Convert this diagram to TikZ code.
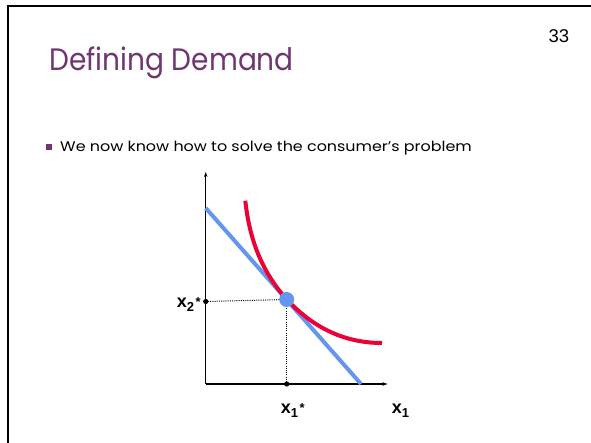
\documentclass[tikz,border=0pt]{standalone}
\usepackage{fontspec}
\setmainfont{Poppins}
\newfontfamily\lab{Liberation Sans}
\usetikzlibrary{arrows.meta}
\definecolor{ttl}{RGB}{110,55,112}
\definecolor{bud}{RGB}{100,150,240}
\definecolor{ind}{RGB}{235,0,55}
\begin{document}
\begin{tikzpicture}[x=1pt,y=-1pt,
  axis/.style={line width=1.2pt,-{Stealth[length=5pt,width=3.5pt]}},
  guide/.style={line width=1pt,dash pattern=on 1pt off 1.2pt},
  lbl/.style={anchor=base west,inner sep=0,font=\lab\bfseries\fontsize{18}{18}\selectfont}]
\useasboundingbox (0,0) rectangle (591,443);
\fill[white] (0,0) rectangle (591,443);
% frame
\draw[line width=2pt] (8,443) -- (8,6) -- (591,6);
% title and page number
\node[anchor=base west,inner sep=0,text=ttl,font=\fontsize{31}{31}\selectfont] (title) at (49.3,70.5) {\scalebox{0.904}[1]{Defining Demand}};
\node[anchor=base east,inner sep=0,font=\lab\fontsize{18.5}{18.5}\selectfont] (num) at (569.3,42.7) {33};
% bullet
\node[fill=ttl,minimum size=6pt,inner sep=0] (bul) at (48.5,147) {};
\node[anchor=base west,inner sep=0,font=\fontsize{14}{14}\selectfont] (txt) at (60,151.7) {\scalebox{1.138}[1]{We now know how to solve the consumer’s problem}};
% graph
\coordinate (O) at (205.7,384);
\coordinate (ytip) at (205.7,172);
\coordinate (xtip) at (387.5,384);
\coordinate (bA) at (205.7,208);
\coordinate (bB) at (361,384);
\coordinate (iA) at (245.3,200.7);
\coordinate (T) at (286.7,299.5);
\coordinate (iB) at (382,343);
\coordinate (p2) at (205.7,301.5);
\coordinate (p1) at (286.7,384);
\draw[axis] (O) -- (ytip);
\draw[axis] (O) -- (xtip);
\draw[guide] (p2) -- (T);
\draw[guide] (T) -- (p1);
\draw[bud,line width=4pt] (bA) -- (bB);
\draw[ind,line width=4pt] (iA) .. controls (250,245) and (265,275) .. (T) .. controls (310,324) and (340,343) .. (iB);
\fill[bud] (T) circle (7.5);
\fill (p2) circle (2.6);
\fill (p1) circle (2.6);
% labels
\node[lbl] (l2) at (176.7,307.3) {x\raisebox{-4.5pt}{\fontsize{13}{13}\selectfont 2}\hspace{1.5pt}\raisebox{1pt}{\fontsize{13}{13}\selectfont *}};
\node[lbl] (l1) at (280.7,413) {x\raisebox{-4.5pt}{\fontsize{13}{13}\selectfont 1}\hspace{1.5pt}\raisebox{1pt}{\fontsize{13}{13}\selectfont *}};
\node[lbl] (lx) at (391.7,413) {x\raisebox{-4.5pt}{\fontsize{13}{13}\selectfont 1}};
\end{tikzpicture}
\end{document}
